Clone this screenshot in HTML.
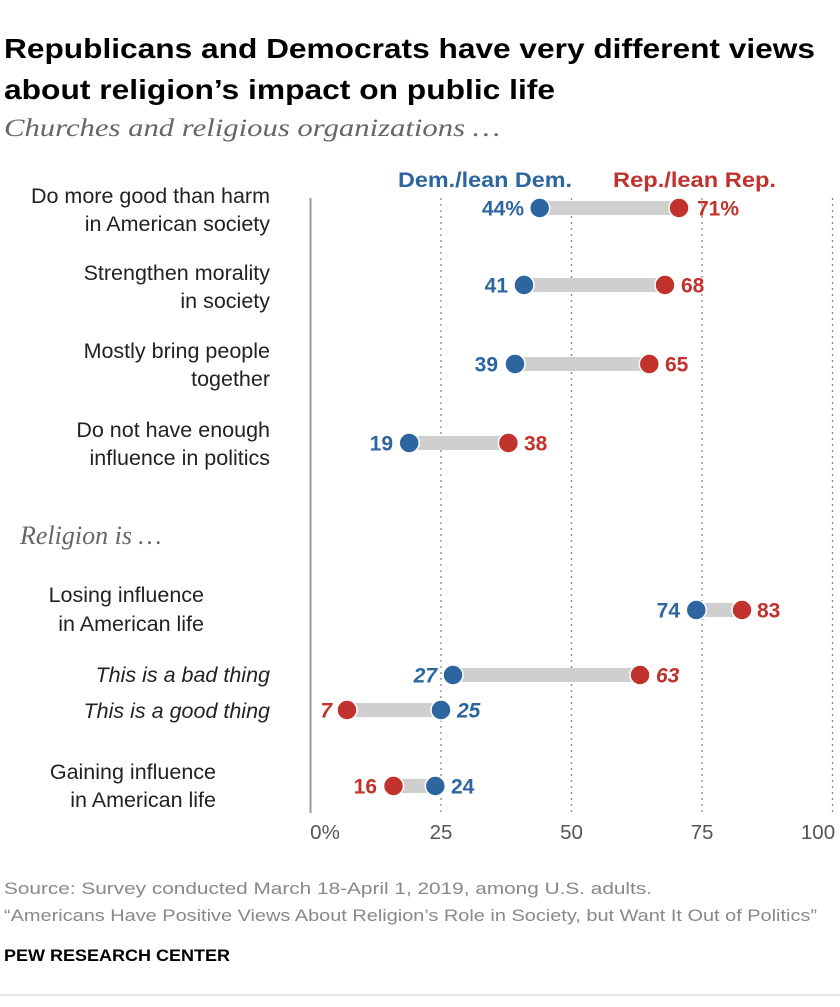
<!DOCTYPE html>
<html><head><meta charset="utf-8"><style>
body{margin:0;background:#fff;width:840px;height:1002px;overflow:hidden;font-family:"Liberation Sans",sans-serif;}
</style></head><body>
<svg width="840" height="1002" xmlns="http://www.w3.org/2000/svg" font-family="Liberation Sans, sans-serif">
<text x="4" y="58" font-size="28" font-weight="bold" fill="#000" textLength="811" lengthAdjust="spacingAndGlyphs">Republicans and Democrats have very different views</text>
<text x="4" y="99" font-size="28" font-weight="bold" fill="#000" textLength="551" lengthAdjust="spacingAndGlyphs">about religion’s impact on public life</text>
<text x="4" y="136" font-size="25" font-style="italic" font-family="Liberation Serif, serif" fill="#666" textLength="496" lengthAdjust="spacingAndGlyphs">Churches and religious organizations …</text>
<text x="398" y="187" font-size="21" font-weight="bold" fill="#2c65a0" textLength="174" lengthAdjust="spacingAndGlyphs">Dem./lean Dem.</text>
<text x="613" y="187" font-size="21" font-weight="bold" fill="#c0322b" textLength="163" lengthAdjust="spacingAndGlyphs">Rep./lean Rep.</text>
<line x1="310.5" y1="198" x2="310.5" y2="813" stroke="#999" stroke-width="2"/>
<g stroke="#888" stroke-width="1.3" stroke-dasharray="2,4">
<line x1="441" y1="198" x2="441" y2="813"/><line x1="571.5" y1="198" x2="571.5" y2="813"/>
<line x1="702" y1="198" x2="702" y2="813"/><line x1="832.5" y1="198" x2="832.5" y2="813"/>
</g>
<g font-size="21.5" fill="#222" text-anchor="end">
<text x="270" y="203">Do more good than harm</text><text x="270" y="231">in American society</text>
<text x="270" y="280">Strengthen morality</text><text x="270" y="308">in society</text>
<text x="270" y="358">Mostly bring people</text><text x="270" y="386">together</text>
<text x="270" y="437">Do not have enough</text><text x="270" y="465">influence in politics</text>
<text x="204" y="602">Losing influence</text><text x="204" y="631">in American life</text>
<text x="270" y="682" font-style="italic">This is a bad thing</text>
<text x="270" y="718" font-style="italic">This is a good thing</text>
<text x="216" y="779">Gaining influence</text><text x="216" y="807">in American life</text>
</g>
<text x="20" y="544" font-size="26" font-style="italic" font-family="Liberation Serif, serif" fill="#666">Religion is …</text>
<g font-size="21" font-weight="bold">
<rect x="539.7" y="201" width="139" height="14" fill="#cfcfcf"/>
<circle cx="539.7" cy="208" r="10" fill="#2c65a0" stroke="#fff" stroke-width="1.5"/><circle cx="679" cy="208" r="10" fill="#c0322b" stroke="#fff" stroke-width="1.5"/>
<text x="524" y="215.5" fill="#2c65a0" text-anchor="end">44%</text><text x="697" y="215.5" fill="#c0322b">71%</text>

<rect x="524" y="278" width="141" height="14" fill="#cfcfcf"/>
<circle cx="524" cy="285" r="10" fill="#2c65a0" stroke="#fff" stroke-width="1.5"/><circle cx="665" cy="285" r="10" fill="#c0322b" stroke="#fff" stroke-width="1.5"/>
<text x="508" y="292.5" fill="#2c65a0" text-anchor="end">41</text><text x="681" y="292.5" fill="#c0322b">68</text>

<rect x="513.6" y="357" width="141" height="14" fill="#cfcfcf"/>
<circle cx="515" cy="364" r="10" fill="#2c65a0" stroke="#fff" stroke-width="1.5"/><circle cx="649.3" cy="364" r="10" fill="#c0322b" stroke="#fff" stroke-width="1.5"/>
<text x="498" y="371.5" fill="#2c65a0" text-anchor="end">39</text><text x="665" y="371.5" fill="#c0322b">65</text>

<rect x="409" y="436" width="99" height="14" fill="#cfcfcf"/>
<circle cx="409.2" cy="443" r="10" fill="#2c65a0" stroke="#fff" stroke-width="1.5"/><circle cx="508.4" cy="443" r="10" fill="#c0322b" stroke="#fff" stroke-width="1.5"/>
<text x="393" y="450.5" fill="#2c65a0" text-anchor="end">19</text><text x="524" y="450.5" fill="#c0322b">38</text>

<rect x="696" y="603" width="47" height="14" fill="#cfcfcf"/>
<circle cx="696.3" cy="610" r="10" fill="#2c65a0" stroke="#fff" stroke-width="1.5"/><circle cx="742" cy="610" r="10" fill="#c0322b" stroke="#fff" stroke-width="1.5"/>
<text x="680" y="617.5" fill="#2c65a0" text-anchor="end">74</text><text x="757" y="617.5" fill="#c0322b">83</text>

<rect x="453" y="668" width="188" height="14" fill="#cfcfcf"/>
<circle cx="453" cy="675" r="10" fill="#2c65a0" stroke="#fff" stroke-width="1.5"/><circle cx="640" cy="675" r="10" fill="#c0322b" stroke="#fff" stroke-width="1.5"/>
<text x="437" y="682.5" fill="#2c65a0" text-anchor="end" font-style="italic">27</text><text x="656" y="682.5" fill="#c0322b" font-style="italic">63</text>

<rect x="347" y="703" width="94" height="14" fill="#cfcfcf"/>
<circle cx="347" cy="710" r="10" fill="#c0322b" stroke="#fff" stroke-width="1.5"/><circle cx="441" cy="710" r="10" fill="#2c65a0" stroke="#fff" stroke-width="1.5"/>
<text x="332" y="717.5" fill="#c0322b" text-anchor="end" font-style="italic">7</text><text x="457" y="717.5" fill="#2c65a0" font-style="italic">25</text>

<rect x="393.5" y="779" width="42" height="14" fill="#cfcfcf"/>
<circle cx="393.5" cy="786" r="10" fill="#c0322b" stroke="#fff" stroke-width="1.5"/><circle cx="435.3" cy="786" r="10" fill="#2c65a0" stroke="#fff" stroke-width="1.5"/>
<text x="377" y="793.5" fill="#c0322b" text-anchor="end">16</text><text x="451" y="793.5" fill="#2c65a0">24</text>
</g>
<g font-size="20.5" fill="#555" text-anchor="middle">
<text x="325" y="839">0%</text><text x="441" y="839">25</text><text x="571.5" y="839">50</text><text x="702" y="839">75</text><text x="818" y="839">100</text>
</g>
<text x="4" y="894" font-size="17" fill="#888" textLength="648" lengthAdjust="spacingAndGlyphs">Source: Survey conducted March 18-April 1, 2019, among U.S. adults.</text>
<text x="4" y="921" font-size="17" fill="#888" textLength="813" lengthAdjust="spacingAndGlyphs">“Americans Have Positive Views About Religion’s Role in Society, but Want It Out of Politics”</text>
<text x="4" y="961" font-size="17" font-weight="bold" fill="#000" textLength="226" lengthAdjust="spacingAndGlyphs">PEW RESEARCH CENTER</text>
<line x1="0" y1="995" x2="840" y2="995" stroke="#ccc" stroke-width="1"/>
</svg>
</body></html>
